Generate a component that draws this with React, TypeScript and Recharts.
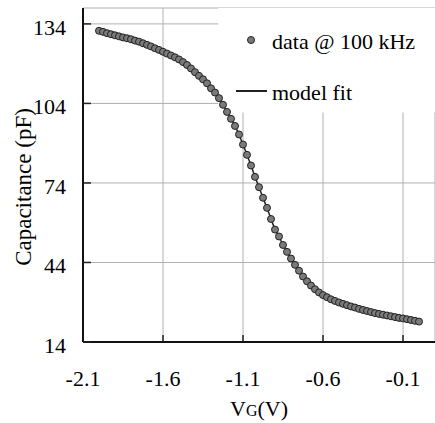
import React from 'react'
import { LineChart, Line, XAxis, YAxis, CartesianGrid, Legend, ReferenceArea } from 'recharts'

// gate voltage (V) of each measured point
const gateVoltage = [
    -2.0, -1.975, -1.95, -1.925, -1.9, -1.875, -1.85, -1.825, -1.8, -1.775,
    -1.75, -1.725, -1.7, -1.675, -1.65, -1.625, -1.6, -1.575, -1.55, -1.525,
    -1.5, -1.475, -1.45, -1.425, -1.4, -1.375, -1.35, -1.325, -1.3, -1.275,
    -1.25, -1.225, -1.2, -1.175, -1.15, -1.125, -1.1, -1.075, -1.05, -1.025,
    -1.0, -0.975, -0.95, -0.925, -0.9, -0.875, -0.85, -0.825, -0.8, -0.775,
    -0.75, -0.725, -0.7, -0.675, -0.65, -0.625, -0.6, -0.575, -0.55, -0.525,
    -0.5, -0.475, -0.45, -0.425, -0.4, -0.375, -0.35, -0.325, -0.3, -0.275,
    -0.25, -0.225, -0.2, -0.175, -0.15, -0.125, -0.1, -0.075, -0.05, -0.025,
    0.0,
]

// measured capacitance (pF) @ 100 kHz
const capacitance = [
    131.4, 131.0, 130.5, 130.1, 129.7, 129.3, 128.9, 128.6, 128.2, 127.7,
    127.3, 126.7, 126.1, 125.5, 124.8, 124.2, 123.5, 122.8, 122.1, 121.4,
    120.6, 119.6, 118.5, 117.2, 115.8, 114.4, 113.1, 111.6, 109.7, 108.1,
    106.0, 103.5, 100.8, 98.2, 95.5, 92.3, 88.5, 84.6, 80.6, 76.3,
    72.4, 68.4, 64.6, 60.4, 56.4, 53.8, 50.6, 48.0, 45.5, 43.1,
    40.9, 38.7, 36.9, 35.3, 33.9, 32.7, 31.7, 30.9, 30.1, 29.5,
    28.9, 28.4, 27.9, 27.4, 27.0, 26.5, 26.1, 25.7, 25.3, 24.9,
    24.6, 24.3, 24.0, 23.7, 23.4, 23.1, 22.9, 22.6, 22.3, 22.0,
    21.7,
]

const xTicks = [-2.1, -1.6, -1.1, -0.6, -0.1]
const yTicks = [14, 44, 74, 104, 134]
const dataName = 'data @ 100 kHz'
const fitName = 'model fit'

const FONT = 'Liberation Serif, Times New Roman, serif'

const data = gateVoltage.map((v, i) => ({ v, c: capacitance[i] }))

const XTick = (props: any) => {
    const { x, y, payload } = props
    return (
        <text x={x} y={y} dy={51} textAnchor="middle" fontSize={22} fontFamily={FONT} fill="#000">
            {payload.value.toFixed(1)}
        </text>
    )
}

const YTick = (props: any) => {
    const { x, y, payload } = props
    return (
        <text x={x} y={y} dy={11} textAnchor="end" fontSize={22} fontFamily={FONT} fill="#000">
            {payload.value}
        </text>
    )
}

const YLabel = (props: any) => {
    const vb = props.viewBox
    const cx = vb.x + 31
    const cy = vb.y + vb.height / 2 + 12
    return (
        <text x={cx} y={cy} transform={`rotate(-90, ${cx}, ${cy})`} textAnchor="middle" fontSize={23} fontFamily={FONT} fill="#000">
            Capacitance (pF)
        </text>
    )
}

const XLabel = (props: any) => {
    const vb = props.viewBox
    return (
        <text x={vb.x + vb.width / 2} y={416} textAnchor="middle" fontSize={22} fontFamily={FONT} fill="#000">
            V<tspan fontSize={16}>G</tspan>(V)
        </text>
    )
}

const renderLegend = () => (
    <svg width={209} height={102} style={{ display: 'block' }}>
        <circle cx={32} cy={29} r={3.5} fill="#7a7a7a" stroke="#222" strokeWidth={1} />
        <text x={53} y={38} fontSize={22} fontFamily={FONT} fill="#000">{dataName}</text>
        <line x1={17} x2={48} y1={80} y2={80} stroke="#222" strokeWidth={2} />
        <text x={53} y={89} fontSize={22} fontFamily={FONT} fill="#000">{fitName}</text>
    </svg>
)

function App() {
    return (
        <div style={{ position: 'absolute', left: 0, top: 0 }}>
            <LineChart width={435} height={423} data={data}
                margin={{ top: 8, right: 0, left: 0, bottom: 0 }}>
                <CartesianGrid stroke="#b0b0b0" strokeWidth={1} />
                {/* white box behind the legend, hides the grid there */}
                <ReferenceArea x1={-1.255} x2={0.1} y1={100.6} y2={140} fill="#fff" fillOpacity={1} stroke="none" />
                <XAxis dataKey="v" type="number" domain={[-2.1, 0.1]} ticks={xTicks}
                    height={81} tickSize={-7} tickMargin={0} tick={<XTick />}
                    axisLine={{ stroke: '#111', strokeWidth: 2 }} tickLine={{ stroke: '#222', strokeWidth: 1.5 }}
                    label={<XLabel />} />
                <XAxis xAxisId="top" orientation="top" type="number" domain={[-2.1, 0.1]} ticks={xTicks}
                    height={0} tickSize={-4} tick={false}
                    axisLine={{ stroke: '#333', strokeWidth: 1.5 }} tickLine={{ stroke: '#333', strokeWidth: 1 }} />
                <YAxis type="number" domain={[14, 140]} ticks={yTicks} width={83}
                    tickSize={-8} tickMargin={25} tick={<YTick />}
                    axisLine={{ stroke: '#111', strokeWidth: 2 }} tickLine={{ stroke: '#222', strokeWidth: 1.5 }}
                    label={<YLabel />} />
                <YAxis yAxisId="right" orientation="right" type="number" domain={[14, 140]} ticks={yTicks}
                    width={0} tickSize={-6} tick={false}
                    axisLine={false} tickLine={{ stroke: '#333', strokeWidth: 1.5 }} />
                <Legend layout="vertical" align="center" verticalAlign="middle" content={renderLegend}
                    wrapperStyle={{ left: 219, top: 11, width: 209, height: 102 }} />
                <Line dataKey="c" name={fitName} stroke="#222" strokeWidth={1.5} dot={false}
                    isAnimationActive={false} />
                <Line dataKey="c" name={dataName} stroke="none" strokeWidth={0}
                    dot={{ r: 3.5, fill: '#7a7a7a', stroke: '#222', strokeWidth: 1 }}
                    activeDot={false} isAnimationActive={false} />
            </LineChart>
        </div>
    )
}

export default App
